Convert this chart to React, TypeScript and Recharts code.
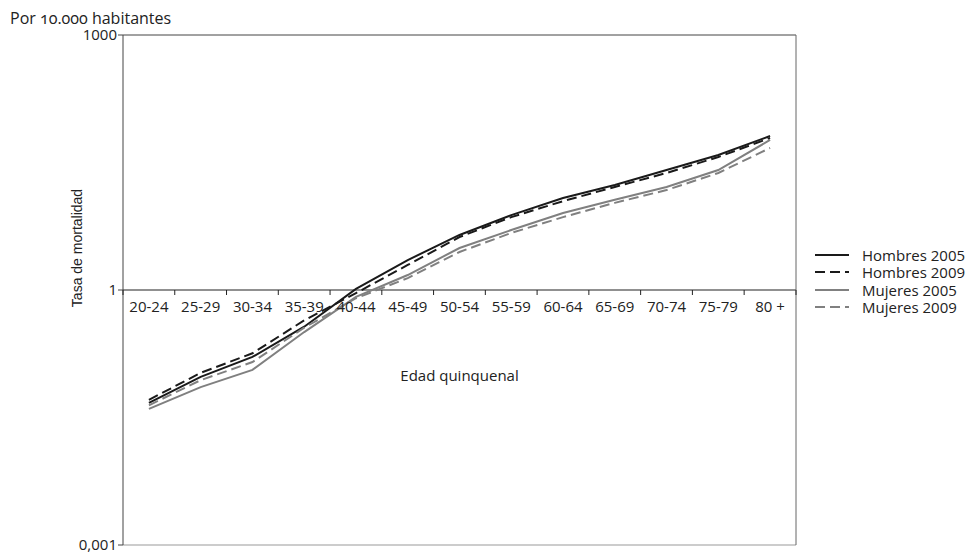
import { LineChart, Line, XAxis, YAxis, ReferenceLine } from 'recharts';

// grupos de edad (eje X)
const ageGroups = ['20-24', '25-29', '30-34', '35-39', '40-44', '45-49', '50-54', '55-59', '60-64', '65-69', '70-74', '75-79', '80 +'];

// tasas por 10.000 habitantes
const hombres2005 = [0.047, 0.095, 0.163, 0.37, 1.03, 2.25, 4.44, 7.6, 12.1, 17.2, 25.8, 38.7, 64.8];
const hombres2009 = [0.051, 0.106, 0.18, 0.44, 0.92, 1.97, 4.2, 7.2, 11.1, 16.3, 23.8, 36.7, 61.4];
const mujeres2005 = [0.04, 0.072, 0.115, 0.32, 0.83, 1.5, 3.12, 5.08, 8.05, 11.5, 16.3, 25.8, 58.2];
const mujeres2009 = [0.044, 0.087, 0.142, 0.36, 0.8, 1.38, 2.8, 4.69, 7.2, 10.6, 15, 23.8, 46.9];

const yTicks = [0.001, 1, 1000];

const series = [
  { key: 'h05', name: 'Hombres 2005', color: '#1a1a1a', dash: undefined },
  { key: 'h09', name: 'Hombres 2009', color: '#1a1a1a', dash: '10 5' },
  { key: 'm05', name: 'Mujeres 2005', color: '#808080', dash: undefined },
  { key: 'm09', name: 'Mujeres 2009', color: '#808080', dash: '10 5' },
];

const data = ageGroups.map((age, i) => ({
  age,
  h05: hombres2005[i],
  h09: hombres2009[i],
  m05: mujeres2005[i],
  m09: mujeres2009[i],
}));

const W = 973;
const H = 552;
const margin = { top: 34, right: 176, bottom: 6, left: 0 };
const yAxisWidth = 123;
const plotW = W - margin.left - margin.right - yAxisWidth;
const plotH = H - margin.top - margin.bottom - 2;
const band = plotW / ageGroups.length;
const font = '"Open Sans", sans-serif';

// la etiqueta del eje X va sobre la línea de y = 1 (mitad del rango log)
const AgeTick = (props: any) => {
  const { x, y, payload, index } = props;
  const axisY = y - plotH / 2;
  const last = index === ageGroups.length - 1;
  return (
    <g>
      <line x1={x - band / 2} x2={x - band / 2} y1={axisY} y2={axisY + 5} stroke="#222" />
      {last && <line x1={x + band / 2} x2={x + band / 2} y1={axisY} y2={axisY + 5} stroke="#222" />}
      <text x={x} y={axisY + 22} textAnchor="middle" fontSize={15} fill="#222" fontFamily={font}>
        {payload.value}
      </text>
    </g>
  );
};

const YLabel = (props: any) => {
  const { viewBox } = props;
  const cx = viewBox.x + viewBox.width - 41;
  const cy = viewBox.y + viewBox.height / 2 - 42;
  return (
    <text x={cx} y={cy} transform={`rotate(-90 ${cx} ${cy})`} textAnchor="middle" fontSize={14} fill="#222" fontFamily='"Liberation Sans", Arial, sans-serif'>
      Tasa de mortalidad
    </text>
  );
};

export default function App() {
  return (
    <div style={{ position: 'absolute', left: 0, top: 0, width: W, height: H, background: '#fff' }}>
      <div style={{ position: 'absolute', left: 10, top: 7, fontFamily: font, fontSize: 16, color: '#222', fontVariantNumeric: 'oldstyle-nums' }}>
        Por 10.000 habitantes
      </div>
      <LineChart width={W} height={H} data={data} margin={margin}>
        <XAxis
          xAxisId="top"
          orientation="top"
          dataKey="age"
          height={1}
          tick={false}
          tickLine={false}
          stroke="#444"
        />
        <XAxis
          dataKey="age"
          height={1}
          interval={0}
          stroke="#999"
          tickLine={false}
          tickSize={0}
          tickMargin={0}
          padding={{ left: band / 2, right: band / 2 }}
          tick={<AgeTick />}
        />
        <YAxis
          type="number"
          scale="log"
          domain={[0.001, 1000]}
          ticks={yTicks}
          interval={0}
          allowDataOverflow
          width={yAxisWidth}
          stroke="#444"
          tickSize={5}
          tickMargin={1}
          tick={{ fontSize: 15, fill: '#222', fontFamily: font }}
          tickFormatter={(v: number) => (v < 0.01 ? '0,001' : String(v))}
          label={{ content: <YLabel /> }}
        />
        <YAxis
          yAxisId="right"
          orientation="right"
          type="number"
          scale="log"
          domain={[0.001, 1000]}
          allowDataOverflow
          width={1}
          tick={false}
          tickLine={false}
          stroke="#666"
        />
        <ReferenceLine
          y={1}
          stroke="#222"
          strokeWidth={1.2}
          label={{ value: 'Edad quinquenal', position: 'bottom', offset: 80, fontSize: 15, fill: '#222', fontFamily: font }}
        />
        {series.map((s) => (
          <Line
            key={s.key}
            dataKey={s.key}
            name={s.name}
            stroke={s.color}
            strokeWidth={2}
            strokeDasharray={s.dash}
            dot={false}
            activeDot={false}
            isAnimationActive={false}
          />
        ))}
      </LineChart>
      <div style={{ position: 'absolute', left: 815, top: 246, fontFamily: font, fontSize: 15, color: '#222' }}>
        {series.map((s) => (
          <div key={s.key} style={{ display: 'flex', alignItems: 'center', height: 17.5 }}>
            <svg width={34} height={4} style={{ marginRight: 13 }}>
              <line x1={0} x2={34} y1={2} y2={2} stroke={s.color} strokeWidth={2} strokeDasharray={s.dash} />
            </svg>
            <span>{s.name}</span>
          </div>
        ))}
      </div>
    </div>
  );
}
